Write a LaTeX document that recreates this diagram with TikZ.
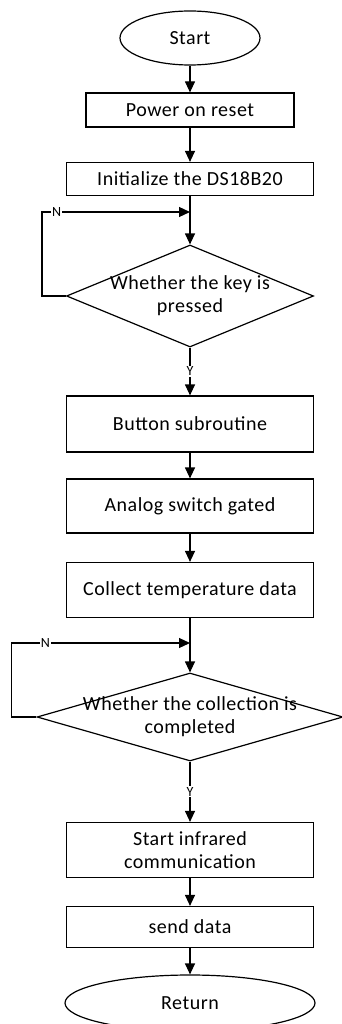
\documentclass[tikz,border=0pt]{standalone}
\usepackage{fontspec}
\setmainfont{Carlito}[LetterSpace=2.5]
\usetikzlibrary{shapes.geometric,arrows.meta}

\begin{document}
\begin{tikzpicture}[x=1pt,y=-1pt,->,>={Triangle[length=11pt,width=10pt]},line width=1.2pt,
                    font=\fontsize{20}{23}\selectfont,
                    terminal/.style={draw,ellipse,inner sep=0pt},
                    process/.style={draw,rectangle,minimum width=247pt,inner sep=0pt,align=center},
                    decision/.style={draw,diamond,minimum width=247pt,minimum height=102pt,inner sep=0pt},
                    tag/.style={fill=white,inner sep=1pt,font=\fontsize{14}{16}\selectfont}]

  \useasboundingbox (0,0) rectangle (342,1024);

  \node[terminal,minimum width=140pt,minimum height=54pt] (S) at (190,38) {Start};
  \node[process,minimum width=208pt,minimum height=34pt] (R) [below of=S,node distance=72pt] {Power on reset};
  \node[process,minimum height=33pt]   (I)  [below of=R,node distance=69pt]  {Initialize the DS18B20};
  \node[decision,label={[align=center]center:Whether the key is\\pressed}]
                                       (D1) [below of=I,node distance=117pt] {};
  \node[process,minimum height=56pt]   (B)  [below of=D1,node distance=128pt] {Button subroutine};
  \node[process,minimum height=54pt]   (A)  [below of=B,node distance=82pt]  {Analog switch gated};
  \node[process,minimum height=55pt]   (C)  [below of=A,node distance=84pt]  {Collect temperature data};
  \node[decision,minimum width=306pt,minimum height=88pt,
        label={[align=center]center:Whether the collection is\\completed}]
                                       (D2) [below of=C,node distance=127pt] {};
  \node[process,minimum height=55pt]   (T)  [below of=D2,node distance=133pt] {Start infrared\\communication};
  \node[process,minimum height=41pt]   (Sd) [below of=T,node distance=77pt]  {send data};
  \node[terminal,minimum width=250pt,minimum height=56pt] (Ret) [below of=Sd,node distance=76pt] {Return};

  \coordinate (J1) at (190,212);
  \coordinate (J2) at (190,643);

  \path (S)  edge (R)
        (R)  edge (I)
        (I)  edge (D1)
        (D1) edge node[tag] {Y} (B)
        (B)  edge (A)
        (A)  edge (C)
        (C)  edge (D2)
        (D2) edge node[tag] {Y} (T)
        (T)  edge (Sd)
        (Sd) edge (Ret);

  % N loops back above the decisions
  \draw (D1.west) -- ++(-24,0) |- node[tag,pos=0.55] {N} (J1);
  \draw (D2.west) -- ++(-25,0) |- node[tag,pos=0.595] {N} (J2);
\end{tikzpicture}
\end{document}
